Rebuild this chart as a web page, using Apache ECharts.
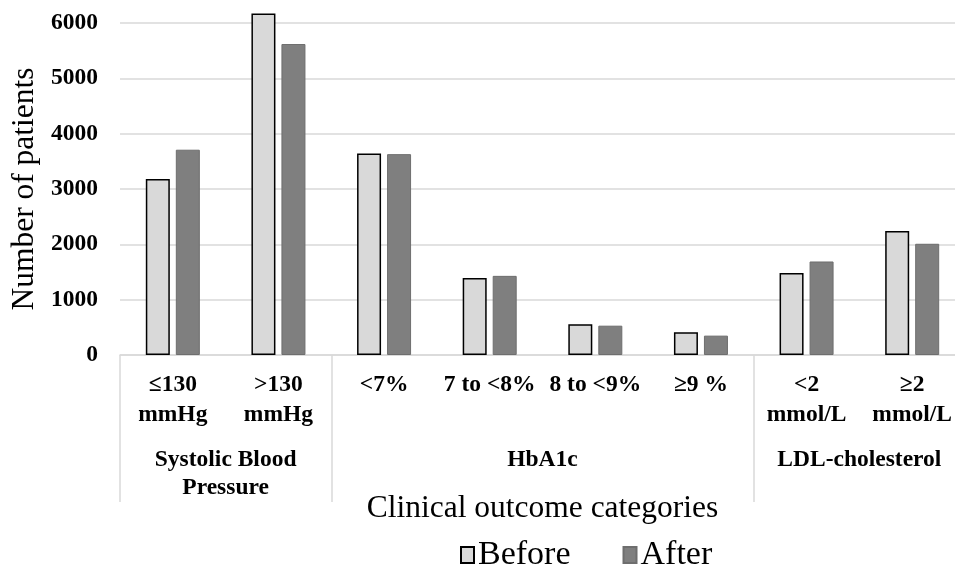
<!DOCTYPE html>
<html>
<head>
<meta charset="utf-8">
<script src="https://cdn.jsdelivr.net/npm/echarts@6/dist/echarts.min.js"></script>
<style>html,body{margin:0;padding:0;background:#fff}#c{width:955px;height:564px}</style>
</head>
<body>
<div id="c"></div>
<script>
var categories = ['≤130\nmmHg', '>130\nmmHg', '<7%', '7 to <8%', '8 to <9%', '≥9 %', '<2\nmmol/L', '≥2\nmmol/L'];
var groupLabels = ['', '', 'Systolic Blood\nPressure', '', '', '', '', '', 'HbA1c', '', '', '', '', '', 'LDL-cholesterol', '', ''];
var groupBoundaries = [0, 4, 12, 16];
var beforeValues = [3180, 6170, 3640, 1390, 555, 410, 1480, 2240];
var afterValues = [3710, 5620, 3630, 1430, 530, 350, 1690, 2010];
var yTicks = {min: 0, max: 6000, interval: 1000};

var serif = '"Liberation Serif","Times New Roman",serif';
var chart = echarts.init(document.getElementById('c'));
chart.setOption({
  animation: false,
  grid: {left: 120, right: -10, top: 23, bottom: 209, containLabel: false, outerBoundsMode: 'none'},
  legend: {
    data: ['Before', 'After'],
    left: 455, top: 533,
    icon: 'rect', itemWidth: 13, itemHeight: 16, itemGap: 52,
    textStyle: {fontFamily: serif, fontSize: 34, color: '#000', padding: [0, 0, 0, -1]}
  },
  xAxis: [{
    type: 'category',
    data: categories,
    axisLine: {lineStyle: {color: '#d9d9d9', width: 1.5}},
    axisTick: {show: false},
    axisLabel: {interval: 0, margin: 15, fontFamily: serif, fontWeight: 'bold', fontSize: 23.5, lineHeight: 30, color: '#000'}
  }, {
    type: 'category',
    data: groupLabels,
    boundaryGap: false,
    position: 'bottom',
    axisLine: {show: false},
    axisTick: {show: true, length: 147, interval: function (i) { return groupBoundaries.indexOf(i) >= 0; }, lineStyle: {color: '#d9d9d9', width: 1.5}},
    axisLabel: {interval: 0, margin: 91, fontFamily: serif, fontWeight: 'bold', fontSize: 23.5, lineHeight: 28, color: '#000'},
    name: 'Clinical outcome categories',
    nameLocation: 'middle',
    nameGap: 138,
    nameMoveOverlap: false,
    nameTextStyle: {fontFamily: serif, fontSize: 31.5, color: '#000'}
  }],
  yAxis: {
    type: 'value',
    min: yTicks.min, max: yTicks.max, interval: yTicks.interval,
    axisLine: {show: false},
    axisTick: {show: false},
    splitLine: {lineStyle: {color: '#d9d9d9', width: 1.5}},
    axisLabel: {margin: 22, fontFamily: serif, fontWeight: 'bold', fontSize: 23.5, color: '#000', formatter: function (v) { return String(v); }},
    name: 'Number of patients',
    nameLocation: 'middle',
    nameGap: 79,
    nameMoveOverlap: false,
    nameTextStyle: {fontFamily: serif, fontSize: 31.5, color: '#000'}
  },
  series: [{
    name: 'Before', type: 'bar', xAxisIndex: 0, clip: false,
    data: beforeValues, barWidth: 24, barGap: '25%',
    itemStyle: {color: '#d9d9d9', borderColor: '#000', borderWidth: 1.5}
  }, {
    name: 'After', type: 'bar', xAxisIndex: 0, clip: false,
    data: afterValues, barWidth: 24,
    itemStyle: {color: '#7f7f7f', borderColor: '#6e6e6e', borderWidth: 1}
  }]
});
</script>
</body>
</html>
